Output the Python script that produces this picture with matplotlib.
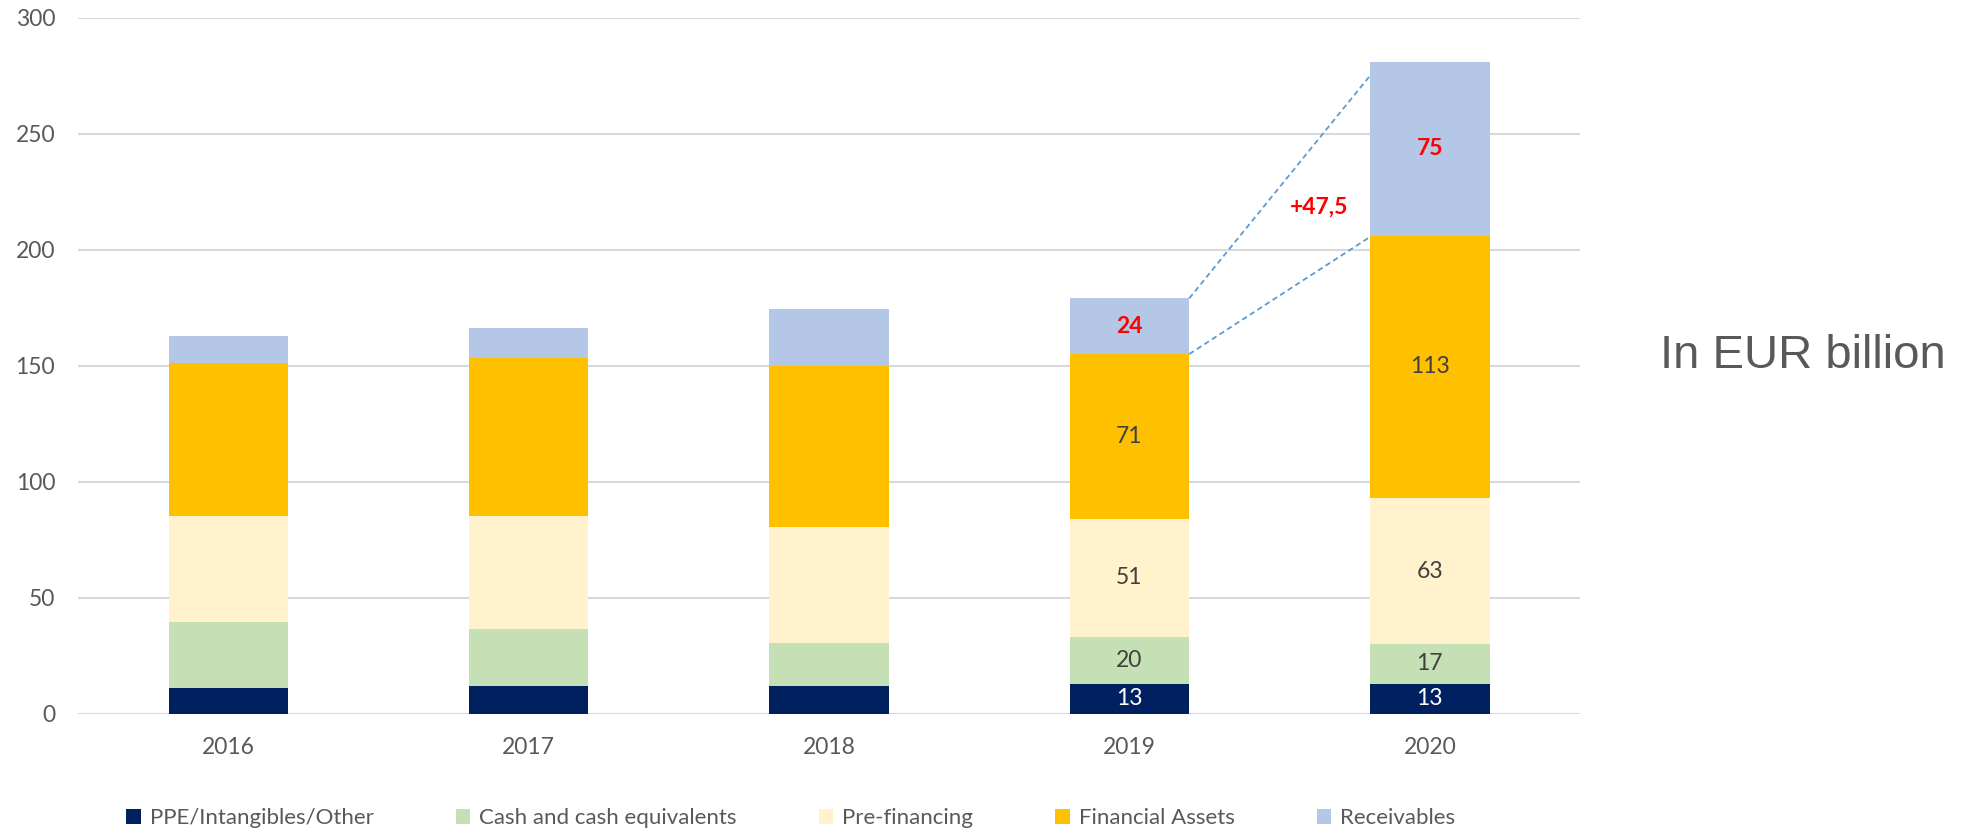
import numpy as np
import matplotlib
matplotlib.use("Agg")
import matplotlib.pyplot as plt

plt.rcParams['font.family'] = ['Lato', 'DejaVu Sans']

years = ['2016', '2017', '2018', '2019', '2020']
series_names = ['PPE/Intangibles/Other', 'Cash and cash equivalents', 'Pre-financing',
                'Financial Assets', 'Receivables']
ppe = [11, 12, 12, 13, 13]
cash = [28.7, 24.4, 18.4, 20, 17]
prefin = [45.6, 48.9, 50, 51, 63]
fin_assets = [65.8, 68, 69.6, 71, 113]
receivables = [11.9, 13, 24.5, 24, 75]
colors = ['#002060', '#C5E0B4', '#FFF2CC', '#FFC000', '#B4C7E7']

# labels shown only for the last two years
shown_labels = {3: ['13', '20', '51', '71', '24'], 4: ['13', '17', '63', '113', '75']}
delta_text = '+47,5'

fig = plt.figure(figsize=(19.77, 8.33), dpi=100)
ax = fig.add_axes([0.0395, 0.1432, 0.7597, 0.8356])

x = np.arange(len(years))
w = 0.398
data = [ppe, cash, prefin, fin_assets, receivables]
bottom = np.zeros(len(years))
for vals, name, c in zip(data, series_names, colors):
    ax.bar(x, vals, w, bottom=bottom, color=c, label=name, zorder=3)
    bottom = bottom + np.array(vals)

# data labels
for i, labs in shown_labels.items():
    b = 0
    for k, (vals, lab) in enumerate(zip(data, labs)):
        v = vals[i]
        if k == 0:
            col, wt = 'white', 'normal'
        elif k == 4:
            col, wt = '#FF0000', 'bold'
        else:
            col, wt = '#404040', 'normal'
        ax.text(i, b + v / 2, lab, ha='center', va='center', fontsize=16.5,
                color=col, fontweight=wt, zorder=5)
        b += v

# dashed connector lines between 2019 and 2020 receivables
tot19 = sum(d[3] for d in data)
base19 = tot19 - receivables[3]
tot20 = sum(d[4] for d in data)
base20 = tot20 - receivables[4]
ax.plot([3 + w / 2, 4 - w / 2], [tot19, tot20 - 6], ls=(0, (3, 2)), color='#5B9BD5',
        lw=1.3, zorder=4)
ax.plot([3 + w / 2, 4 - w / 2], [base19, base20 - 0.5], ls=(0, (3, 2)), color='#5B9BD5',
        lw=1.3, zorder=4)
ax.text(3.63, 218.5, delta_text, ha='center', va='center', fontsize=16.5, color='#FF0000',
        fontweight='bold')

ax.set_xlim(-0.5, 4.5)
ax.set_ylim(0, 300)
ax.set_yticks(np.arange(0, 301, 50))
ax.set_xticks(x)
ax.set_xticklabels(years)
ax.yaxis.grid(True, color='#D9D9D9', lw=1.5, zorder=0)
ax.set_axisbelow(True)
for s in ax.spines.values():
    s.set_visible(False)
ax.tick_params(axis='both', length=0, labelsize=16.5, labelcolor='#595959')
ax.tick_params(axis='x', pad=17)
ax.tick_params(axis='y', pad=16.5)

fig.legend(loc='center', bbox_to_anchor=(0.4, 0.018), ncol=5, frameon=False,
           fontsize=16, labelcolor='#595959', handlelength=0.65, handleheight=0.65,
           handletextpad=0.4, columnspacing=3.7)

fig.text(0.8395, 0.573, 'In EUR billion', fontsize=34, color='#595959',
         family='Liberation Sans', ha='left', va='center')

fig.savefig('out.png', dpi=100)
